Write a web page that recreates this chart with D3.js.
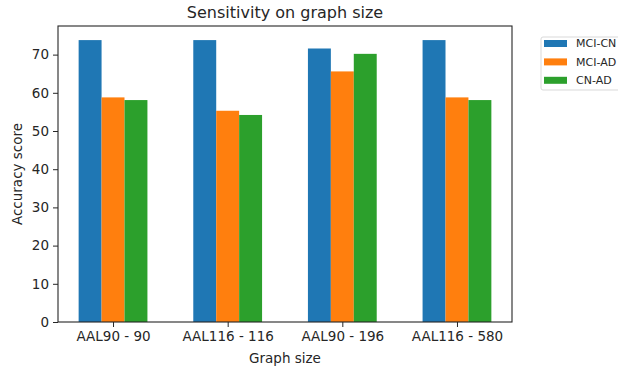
<!DOCTYPE html>
<meta charset="utf-8">
<head>
<style>
  body { margin: 0; background: #fff; }
  text { font-family: "DejaVu Sans", sans-serif; fill: #262626; }
</style>
</head>
<body>
<script src="https://d3js.org/d3.v7.min.js"></script>
<div id="my_dataviz"></div>
<script>
    // data
    var groups = ["AAL90 - 90", "AAL116 - 116", "AAL90 - 196", "AAL116 - 580"];
    var subgroups = ["MCI-CN", "MCI-AD", "CN-AD"];
    var mciCn = [73.8, 73.8, 71.6, 73.8];
    var mciAd = [58.8, 55.3, 65.6, 58.8];
    var cnAd  = [58.1, 54.2, 70.2, 58.1];
    var yTicks = [0, 10, 20, 30, 40, 50, 60, 70];

    var series = [mciCn, mciAd, cnAd];

    var margin = {top: 26, right: 106, bottom: 46, left: 58},
        width = 618 - margin.left - margin.right,
        height = 368 - margin.top - margin.bottom;

    var svg = d3.select("#my_dataviz")
      .append("svg")
        .attr("width", 618)
        .attr("height", 368)
      .append("g")
        .attr("transform", "translate(" + margin.left + "," + margin.top + ")");

    // matplotlib-like numeric x axis: bar width 0.2, centres at i-0.2, i, i+0.2
    var barW = 0.2;
    var x = d3.scaleLinear()
      .domain([-0.48, groups.length - 1 + 0.48])
      .range([0, width]);

    var yMax = d3.max(series, function(s) { return d3.max(s); }) * 1.05;
    var y = d3.scaleLinear()
      .domain([0, yMax])
      .range([height, 0]);

    var color = d3.scaleOrdinal()
      .domain(subgroups)
      .range(["#1f77b4", "#ff7f0e", "#2ca02c"]);

    // bars
    subgroups.forEach(function(key, k) {
      svg.append("g")
        .selectAll("rect")
        .data(series[k])
        .enter().append("rect")
          .attr("x", function(d, i) { return x(i + (k - 1) * barW - barW / 2); })
          .attr("y", function(d) { return y(d); })
          .attr("width", x(barW) - x(0))
          .attr("height", function(d) { return height - y(d); })
          .attr("fill", color(key));
    });

    // axes
    var xAxis = svg.append("g")
      .attr("transform", "translate(0," + height + ")")
      .call(d3.axisBottom(x)
        .tickValues(d3.range(groups.length))
        .tickFormat(function(d) { return groups[d]; })
        .tickSize(5).tickPadding(4));
    var yAxis = svg.append("g")
      .call(d3.axisLeft(y).tickValues(yTicks).tickSize(5).tickPadding(4));

    [xAxis, yAxis].forEach(function(a) {
      a.select(".domain").remove();
      a.selectAll("line").attr("stroke", "#262626").attr("stroke-width", 1);
      a.selectAll("text").attr("font-size", "13.5px").attr("fill", "#262626")
        .style("font-family", "'DejaVu Sans', sans-serif");
    });

    // frame
    svg.append("rect")
      .attr("width", width)
      .attr("height", height)
      .attr("fill", "none")
      .attr("stroke", "#262626")
      .attr("stroke-width", 1.1);

    // title and labels
    svg.append("text")
      .attr("x", width / 2)
      .attr("y", -8)
      .attr("text-anchor", "middle")
      .attr("font-size", "16px")
      .text("Sensitivity on graph size");

    svg.append("text")
      .attr("x", width / 2)
      .attr("y", height + 41)
      .attr("text-anchor", "middle")
      .attr("font-size", "13.5px")
      .text("Graph size");

    svg.append("text")
      .attr("transform", "rotate(-90)")
      .attr("x", -height / 2)
      .attr("y", -36)
      .attr("text-anchor", "middle")
      .attr("font-size", "13.5px")
      .text("Accuracy score");

    // legend outside the axes
    var legend = svg.append("g")
      .attr("transform", "translate(" + (width + 29) + ",11)");

    legend.append("rect")
      .attr("x", 0)
      .attr("y", 0)
      .attr("width", 90)
      .attr("height", 53)
      .attr("rx", 2)
      .attr("fill", "#fff")
      .attr("stroke", "#d9d9d9");

    legend.selectAll(".sw")
      .data(subgroups)
      .enter().append("rect")
        .attr("x", 3)
        .attr("y", function(d, i) { return 3 + i * 18.4; })
        .attr("width", 23)
        .attr("height", 7)
        .attr("fill", function(d) { return color(d); });

    legend.selectAll(".lb")
      .data(subgroups)
      .enter().append("text")
        .attr("x", 35)
        .attr("y", function(d, i) { return 6.5 + i * 18.4; })
        .attr("dy", "0.35em")
        .attr("font-size", "11px")
        .text(function(d) { return d; });
</script>
</body>
